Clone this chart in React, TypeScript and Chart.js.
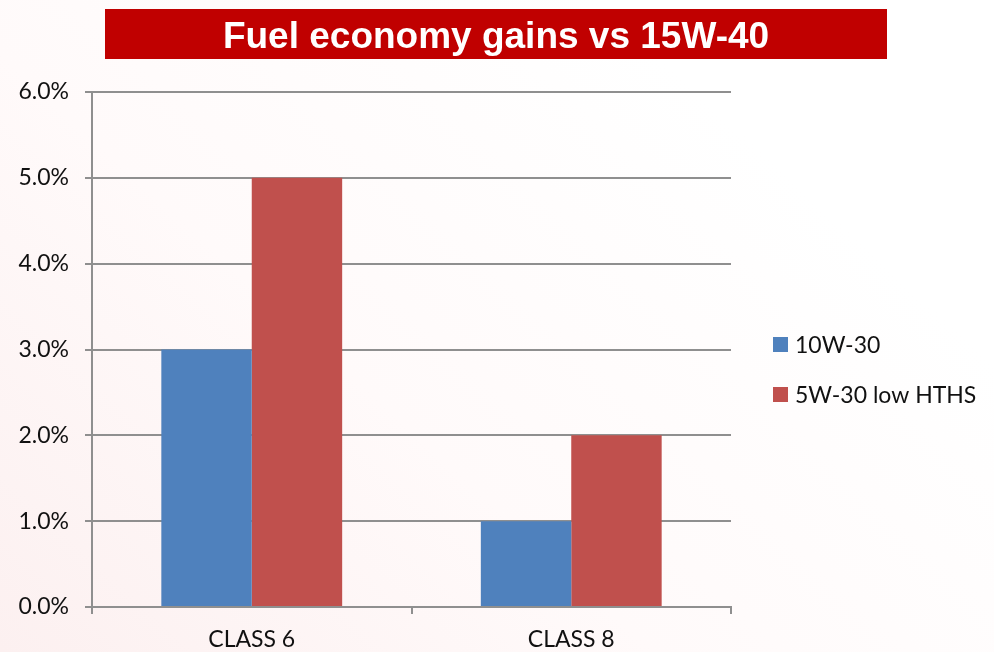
import React, { useEffect, useRef } from "react";
import { Chart, registerables } from "chart.js";

Chart.register(...registerables);

const chartTitle = "Fuel economy gains vs 15W-40";
const categories = ["CLASS 6", "CLASS 8"];
const seriesNames = ["10W-30", "5W-30 low HTHS"];
const values10W30 = [3.0, 1.0];
const values5W30 = [5.0, 2.0];
const seriesColors = ["#4F81BD", "#C0504D"];
const yMin = 0;
const yMax = 6;
const yStep = 1;

const LABEL_FONT = "Lato, 'Open Sans', sans-serif";

const backgroundPlugin = {
  id: "bgGradient",
  beforeDraw(chart: any) {
    const { ctx, width, height } = chart;
    ctx.save();
    const g = ctx.createLinearGradient(0, height, width * 0.6, 0);
    g.addColorStop(0, "#fcf0f0");
    g.addColorStop(0.5, "#fffafa");
    g.addColorStop(1, "#ffffff");
    ctx.fillStyle = g;
    ctx.fillRect(0, 0, width, height);
    ctx.restore();
  },
};

const titleBarPlugin = {
  id: "titleBar",
  afterDraw(chart: any) {
    const { ctx } = chart;
    ctx.save();
    ctx.fillStyle = "#C00000";
    ctx.fillRect(105, 9, 782, 50);
    ctx.fillStyle = "#ffffff";
    ctx.font = "bold 37px 'Liberation Sans', Arial, sans-serif";
    ctx.textAlign = "center";
    ctx.textBaseline = "alphabetic";
    ctx.fillText(chartTitle, 496, 48);
    ctx.restore();
  },
};

const sideLegendPlugin = {
  id: "sideLegend",
  afterDraw(chart: any) {
    const { ctx, chartArea } = chart;
    ctx.save();
    ctx.font = `23px ${LABEL_FONT}`;
    ctx.textAlign = "left";
    ctx.textBaseline = "alphabetic";
    chart.data.datasets.forEach((ds: any, i: number) => {
      const x = chartArea.right + 42;
      const y = chartArea.top + 245 + i * 50;
      ctx.fillStyle = ds.backgroundColor;
      ctx.fillRect(x, y, 15, 15);
      ctx.fillStyle = "#111111";
      ctx.fillText(ds.label, x + 22, y + 16);
    });
    ctx.restore();
  },
};

export default function App() {
  const canvasRef = useRef<HTMLCanvasElement | null>(null);

  useEffect(() => {
    if (!canvasRef.current) return;
    const chart = new Chart(canvasRef.current, {
      type: "bar",
      data: {
        labels: categories,
        datasets: [
          {
            label: seriesNames[0],
            data: values10W30,
            backgroundColor: seriesColors[0],
            categoryPercentage: 0.566,
            barPercentage: 1.0,
          },
          {
            label: seriesNames[1],
            data: values5W30,
            backgroundColor: seriesColors[1],
            categoryPercentage: 0.566,
            barPercentage: 1.0,
          },
        ],
      },
      options: {
        responsive: false,
        animation: false,
        layout: { padding: { top: 92, right: 263, left: 0, bottom: 0 } },
        plugins: {
          legend: { display: false },
          title: { display: false },
          tooltip: { enabled: false },
        },
        scales: {
          x: {
            offset: true,
            grid: {
              display: true,
              offset: true,
              drawOnChartArea: false,
              drawTicks: true,
              tickLength: 7,
              color: "#8f8f8f",
              lineWidth: 2,
            },
            border: { display: true, color: "#8f8f8f", width: 2 },
            ticks: {
              color: "#111111",
              font: { family: LABEL_FONT, size: 23 },
              padding: 12,
              maxRotation: 0,
            },
            afterFit(scale: any) {
              scale.height = 45;
            },
          },
          y: {
            min: yMin,
            max: yMax,
            grid: {
              color: "#8f8f8f",
              lineWidth: 2,
              tickLength: 7,
            },
            border: { display: true, color: "#8f8f8f", width: 2 },
            ticks: {
              stepSize: yStep,
              color: "#111111",
              font: { family: LABEL_FONT, size: 23 },
              padding: 16,
              callback: (v: any) => Number(v).toFixed(1) + "%",
            },
            afterFit(scale: any) {
              scale.width = 92;
            },
          },
        },
      },
      plugins: [backgroundPlugin, titleBarPlugin, sideLegendPlugin],
    });
    return () => chart.destroy();
  }, []);

  return (
    <div style={{ position: "absolute", left: 0, top: 0, width: 994, height: 652 }}>
      <canvas ref={canvasRef} width={994} height={652} style={{ display: "block" }} />
    </div>
  );
}
